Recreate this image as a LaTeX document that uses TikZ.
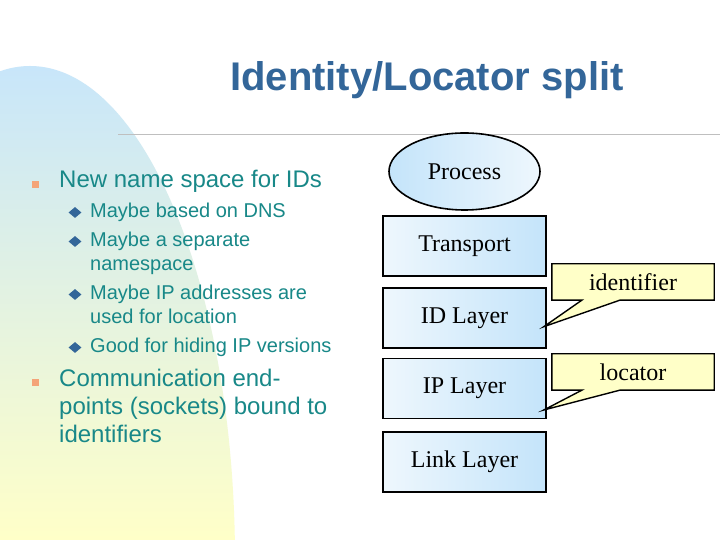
\documentclass[tikz,border=0pt]{standalone}
\usepackage{fontspec}
\setmainfont{Liberation Serif}
\setsansfont{Liberation Sans}
\usepackage{tikz}
\usetikzlibrary{positioning,calc,shapes.geometric}
\definecolor{ttl}{RGB}{51,102,153}
\definecolor{tx}{RGB}{24,136,136}
\definecolor{bor}{RGB}{244,164,120}
\definecolor{bgA}{RGB}{200,230,250}
\definecolor{bgB}{RGB}{255,255,200}
\definecolor{lyA}{RGB}{238,247,253}
\definecolor{lyB}{RGB}{196,228,250}
\definecolor{yel}{RGB}{255,255,200}
\pgfdeclareverticalshading{bgsh}{100bp}{color(0bp)=(bgB); color(51bp)=(bgB); color(75bp)=(bgA); color(100bp)=(bgA)}

\begin{document}
\begin{tikzpicture}[x=1pt,y=1pt,
 mt/.style={anchor=base west,inner sep=0,text=tx,font=\sffamily\fontsize{24}{28}\selectfont},
 st/.style={anchor=base west,inner sep=0,text=tx,font=\sffamily\fontsize{20}{24}\selectfont},
 sq/.style={fill=bor,minimum size=7pt,inner sep=0},
 dm/.style={diamond,fill=ttl,minimum width=13pt,minimum height=11pt,inner sep=0},
 ly/.style={draw,line width=1.6pt,minimum width=163pt,minimum height=60pt,left color=lyA,right color=lyB,font=\fontsize{24}{28}\selectfont},
 co/.style={minimum width=162pt,minimum height=36pt,font=\fontsize{24}{28}\selectfont},
 cl/.style={draw,line width=1.4pt,fill=yel,line join=miter}]
\useasboundingbox (0,0) rectangle (720,540);
\fill[white] (0,0) rectangle (720,540);
% background curve
\shade[shading=bgsh] (30,-20) ellipse [x radius=205, y radius=494];
\fill[white] (0,-530) rectangle (720,0);
% title
\node[anchor=base west,inner sep=0,text=ttl,font=\sffamily\bfseries\fontsize{40}{48}\selectfont] (title) at (230,449.3) {Identity/Locator split};
\coordinate (r0) at (118,405.7);
\coordinate (r1) at (720,405.7);
\draw[black!25,line width=1pt] (r0) -- (r1);
% bullets
\node[sq] (q1) at (35.5,355.5) {};
\node[mt] (m1) at (59,352) {New name space for IDs};
\node[dm] (d1) at (75,327.5) {};
\node[st] (s1) at (90,322) {Maybe based on DNS};
\node[dm] (d2) at (75,298.5) {};
\node[st] (s2) at (90,293) {Maybe a separate};
\node[st] (s2b) at (90,269) {namespace};
\node[dm] (d3) at (75,245.5) {};
\node[st] (s3) at (90,240) {Maybe IP addresses are};
\node[st] (s3b) at (90,216) {used for location};
\node[dm] (d4) at (75,192.5) {};
\node[st] (s4) at (90,187) {Good for hiding IP versions};
\node[sq] (q2) at (35.5,157.5) {};
\node[mt] (m2) at (59,153) {Communication end-};
\node[mt] (m2b) at (59,125) {points (sockets) bound to};
\node[mt] (m2c) at (59,97) {identifiers};
% stack
\node[ellipse,draw,line width=1.6pt,minimum width=151pt,minimum height=77pt,left color=lyB,right color=lyA,font=\fontsize{24}{28}\selectfont] (pr) at (464.5,368.5) {Process};
\node[ly] (tp) at (464.5,294) {Transport};
\node[ly] (idl) at (464.5,222) {ID Layer};
\node[ly] (ipl) at (464.5,151.5) {IP Layer};
\node[ly] (lk) at (464.5,78) {Link Layer};
% callouts
\node[co] (idc) at (633,258) {};
\coordinate (t1) at ($(idl.east)+(-3,-8.7)$);
\draw[cl] (idc.north west) -- (idc.north east) -- (idc.south east) -- ($(idc.south west)+(68,0)$) -- (t1) -- ($(idc.south west)+(30,0)$) -- (idc.south west) -- cycle;
\node[co] at (idc) {identifier};
\node[co] (lc) at (633,168) {};
\coordinate (t2) at ($(ipl.east)+(-3,-21.5)$);
\draw[cl] (lc.north west) -- (lc.north east) -- (lc.south east) -- ($(lc.south west)+(68,0)$) -- (t2) -- ($(lc.south west)+(30,0)$) -- (lc.south west) -- cycle;
\node[co] at (lc) {locator};
\end{tikzpicture}
\end{document}
